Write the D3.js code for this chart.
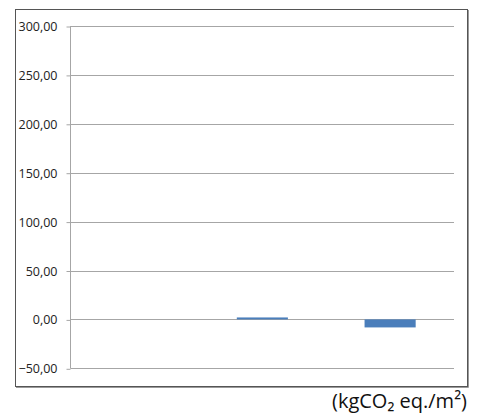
<!DOCTYPE html>
<html><head><meta charset="utf-8">
<script src="https://cdn.jsdelivr.net/npm/d3@7"></script>
<style>body{margin:0;background:#fff}</style>
</head><body>
<script>
const categories = ["A", "B", "C"];
const values = [0, 2.0, -8.2];
const yTicks = [-50, 0, 50, 100, 150, 200, 250, 300];
const unitLabel = "(kgCO\u2082 eq./m\u00b2)";

const W = 485, H = 416;
const svg = d3.select("body").append("svg").attr("width", W).attr("height", H);

// outer frame
svg.append("rect").attr("x", 15.5).attr("y", 9.5).attr("width", 452).attr("height", 377)
  .attr("fill", "none").attr("stroke", "#555", ).attr("stroke-width", 1);
svg.append("line").attr("x1", 468.5).attr("x2", 468.5).attr("y1", 10).attr("y2", 387.5).attr("stroke", "#9a9a9a");
svg.append("line").attr("x1", 16).attr("x2", 468.5).attr("y1", 387.5).attr("y2", 387.5).attr("stroke", "#9a9a9a");

const x = d3.scaleBand().domain(categories).range([70.7, 454]).paddingInner(0.6).paddingOuter(0.3);
const y = d3.scaleLinear().domain([-50, 300]).range([368.3, 26]);

const fmt = d => d3.format(".2f")(d).replace(".", ",");

// gridlines
svg.append("g").selectAll("line").data(yTicks).join("line")
  .attr("x1", 70.5).attr("x2", 454)
  .attr("y1", d => Math.round(y(d)) + 0.5).attr("y2", d => Math.round(y(d)) + 0.5)
  .attr("stroke", "#a6a6a6").attr("stroke-width", 1);

// y axis
const yAxis = d3.axisLeft(y).tickValues(yTicks).tickFormat(fmt).tickSize(4).tickPadding(9);
const gy = svg.append("g").attr("transform", "translate(70.5,0)").call(yAxis);
gy.select(".domain").attr("stroke", "#a6a6a6").attr("d", `M0,${Math.round(y(300))}V${Math.round(y(-50))+0.5}`);
gy.selectAll(".tick line").attr("stroke", "#a6a6a6").attr("transform", "translate(0,0.5)");
gy.selectAll(".tick text").attr("font-family", "Open Sans, sans-serif").attr("font-size", 12.5)
  .attr("fill", "#222").attr("dy", "0.36em");

// bars
svg.append("g").selectAll("rect").data(values).join("rect")
  .attr("x", (d, i) => x(categories[i]))
  .attr("width", x.bandwidth())
  .attr("y", d => y(Math.max(0, d)))
  .attr("height", d => Math.abs(y(d) - y(0)))
  .attr("fill", "#4a7ebb");

// unit label
svg.append("text").attr("x", 467).attr("y", 408).attr("text-anchor", "end")
  .attr("font-family", "Open Sans, sans-serif").attr("font-size", 20).attr("fill", "#111")
  .text(unitLabel);
</script>
</body></html>
